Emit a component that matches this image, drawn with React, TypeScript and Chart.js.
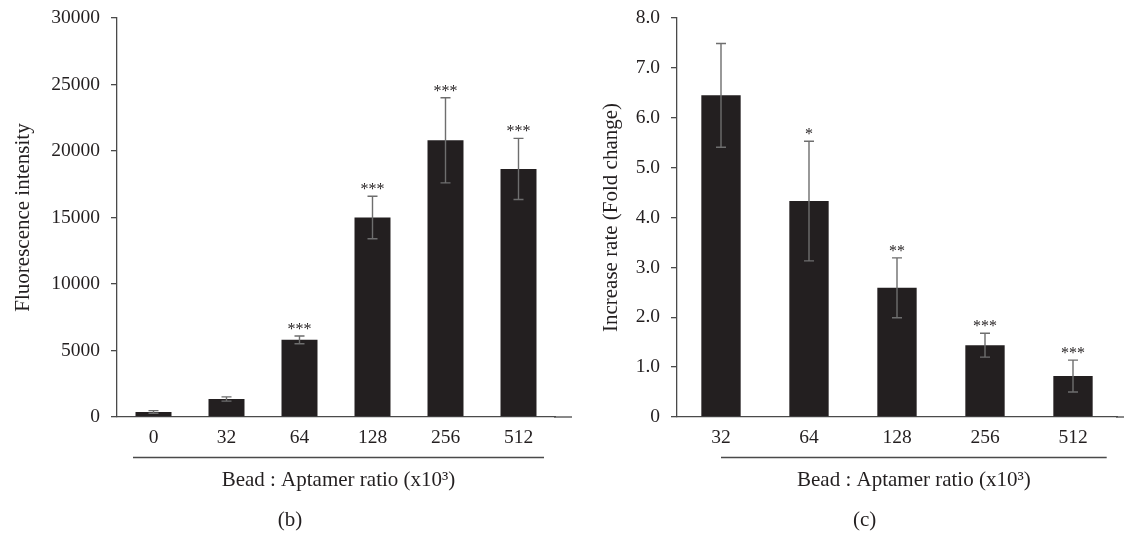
import React, { useEffect, useRef } from 'react';
import { Chart, registerables } from 'chart.js';

Chart.register(...registerables);

// ---- Data ----
const leftCategories = ['0', '32', '64', '128', '256', '512'];
const leftValues = [380, 1350, 5800, 15000, 20800, 18650];
const leftErrors = [100, 160, 290, 1600, 3200, 2300];
const leftStars = ['', '', '***', '***', '***', '***'];

const rightCategories = ['32', '64', '128', '256', '512'];
const rightValues = [6.45, 4.33, 2.59, 1.44, 0.82];
const rightErrors = [1.04, 1.2, 0.6, 0.24, 0.32];
const rightStars = ['', '*', '**', '***', '***'];

const xTitle = 'Bead : Aptamer ratio (x10\u00B3)';
const leftYTitle = 'Fluorescence intensity';
const rightYTitle = 'Increase rate (Fold change)';
const leftCaption = '(b)';
const rightCaption = '(c)';

// ---- Styles ----
const FONT = '"Liberation Serif", "Times New Roman", serif';
const TEXT = '#231f20';
const BAR = '#231f20';
const ERR = '#6e6e6e';
const AXIS = '#4a4a4a';

type PanelProps = {
  categories: string[];
  values: number[];
  errors: number[];
  stars: string[];
  yMax: number;
  yStep: number;
  fmt: (v: number) => string;
  yTitle: string;
  yTitlePad: number;
  caption: string;
  captionX: number;
  left: number;
  width: number;
  padRight: number;
  barPct: number;
  underline: [number, number];
  axisEnd: number;
};

function Panel(p: PanelProps) {
  const ref = useRef<HTMLCanvasElement | null>(null);
  useEffect(() => {
    if (!ref.current) return;
    const deco = {
      id: 'deco',
      afterDatasetsDraw(chart: any) {
        const ctx = chart.ctx;
        const meta = chart.getDatasetMeta(0);
        const y = chart.scales.y;
        ctx.save();
        meta.data.forEach((bar: any, i: number) => {
          const x = bar.x;
          const v = p.values[i];
          const e = p.errors[i];
          const yt = y.getPixelForValue(v + e);
          const yb = y.getPixelForValue(Math.max(0, v - e));
          ctx.strokeStyle = ERR;
          ctx.lineWidth = 1.4;
          ctx.beginPath();
          ctx.moveTo(x, yt);
          ctx.lineTo(x, yb);
          ctx.moveTo(x - 5, yt);
          ctx.lineTo(x + 5, yt);
          ctx.moveTo(x - 5, yb);
          ctx.lineTo(x + 5, yb);
          ctx.stroke();
          if (p.stars[i]) {
            ctx.fillStyle = TEXT;
            ctx.font = '16px ' + FONT;
            ctx.textAlign = 'center';
            ctx.textBaseline = 'alphabetic';
            ctx.fillText(p.stars[i], x, yt - 2);
          }
        });
        ctx.restore();
      },
      afterDraw(chart: any) {
        const ctx = chart.ctx;
        const area = chart.chartArea;
        ctx.save();
        // extend x axis line
        ctx.strokeStyle = AXIS;
        ctx.lineWidth = 1.3;
        ctx.beginPath();
        ctx.moveTo(area.right - 1, area.bottom);
        ctx.lineTo(p.axisEnd, area.bottom);
        ctx.stroke();
        // underline
        ctx.beginPath();
        ctx.moveTo(p.underline[0], 457.5);
        ctx.lineTo(p.underline[1], 457.5);
        ctx.stroke();
        // x title
        ctx.fillStyle = TEXT;
        ctx.font = '21px ' + FONT;
        ctx.textAlign = 'center';
        ctx.textBaseline = 'middle';
        ctx.fillText(xTitle, (p.underline[0] + p.underline[1]) / 2, 480);
        // caption
        ctx.fillText(p.caption, p.captionX, 520);
        ctx.restore();
      },
    };
    const chart = new Chart(ref.current, {
      type: 'bar',
      data: {
        labels: p.categories,
        datasets: [
          {
            data: p.values,
            backgroundColor: BAR,
            borderWidth: 0,
            barPercentage: p.barPct,
            categoryPercentage: 1,
          },
        ],
      },
      options: {
        animation: false,
        responsive: false,
        devicePixelRatio: 1,
        layout: { padding: { top: 18, right: p.padRight, bottom: 0, left: 0 } },
        plugins: { legend: { display: false }, tooltip: { enabled: false } },
        scales: {
          x: {
            grid: { display: false, drawTicks: false },
            border: { display: true, color: AXIS, width: 1.3 },
            ticks: { color: TEXT, font: { family: FONT, size: 19.5 }, padding: 9, maxRotation: 0 },
            afterFit: (s: any) => {
              s.height = 116;
            },
          },
          y: {
            min: 0,
            max: p.yMax,
            ticks: {
              stepSize: p.yStep,
              color: TEXT,
              font: { family: FONT, size: 19.5 },
              padding: 11,
              callback: (v: any) => p.fmt(Number(v)),
            },
            grid: { display: true, drawOnChartArea: false, drawTicks: true, tickLength: 6, color: AXIS, lineWidth: 1.3 },
            border: { display: true, color: AXIS, width: 1.3 },
            title: {
              display: true,
              text: p.yTitle,
              color: TEXT,
              font: { family: FONT, size: 21 },
              padding: { top: p.yTitlePad, bottom: 0 },
            },
            afterFit: (s: any) => {
              s.width = 117;
              s.paddingTop = 0;
              s.paddingBottom = 0;
            },
          },
        },
      },
      plugins: [deco],
    } as any);
    return () => chart.destroy();
  }, []);
  return (
    <canvas
      ref={ref}
      width={p.width}
      height={533}
      style={{ position: 'absolute', left: p.left, top: 0, width: p.width, height: 533 }}
    />
  );
}

export default function App() {
  return (
    <div style={{ position: 'fixed', left: 0, top: 0, width: 1124, height: 533, background: '#fff', overflow: 'hidden' }}>
      <Panel
        categories={leftCategories}
        values={leftValues}
        errors={leftErrors}
        stars={leftStars}
        yMax={30000}
        yStep={5000}
        fmt={(v) => String(v)}
        yTitle={leftYTitle}
        yTitlePad={10.7}
        caption={leftCaption}
        captionX={290}
        left={0}
        width={580}
        padRight={25}
        barPct={0.493}
        underline={[133, 544]}
        axisEnd={572}
      />
      <Panel
        categories={rightCategories}
        values={rightValues}
        errors={rightErrors}
        stars={rightStars}
        yMax={8}
        yStep={1}
        fmt={(v) => (v === 0 ? '0' : v.toFixed(1))}
        yTitle={rightYTitle}
        yTitlePad={39}
        caption={rightCaption}
        captionX={304.6}
        left={560}
        width={564}
        padRight={7}
        barPct={0.447}
        underline={[161, 546.7]}
        axisEnd={564}
      />
    </div>
  );
}
